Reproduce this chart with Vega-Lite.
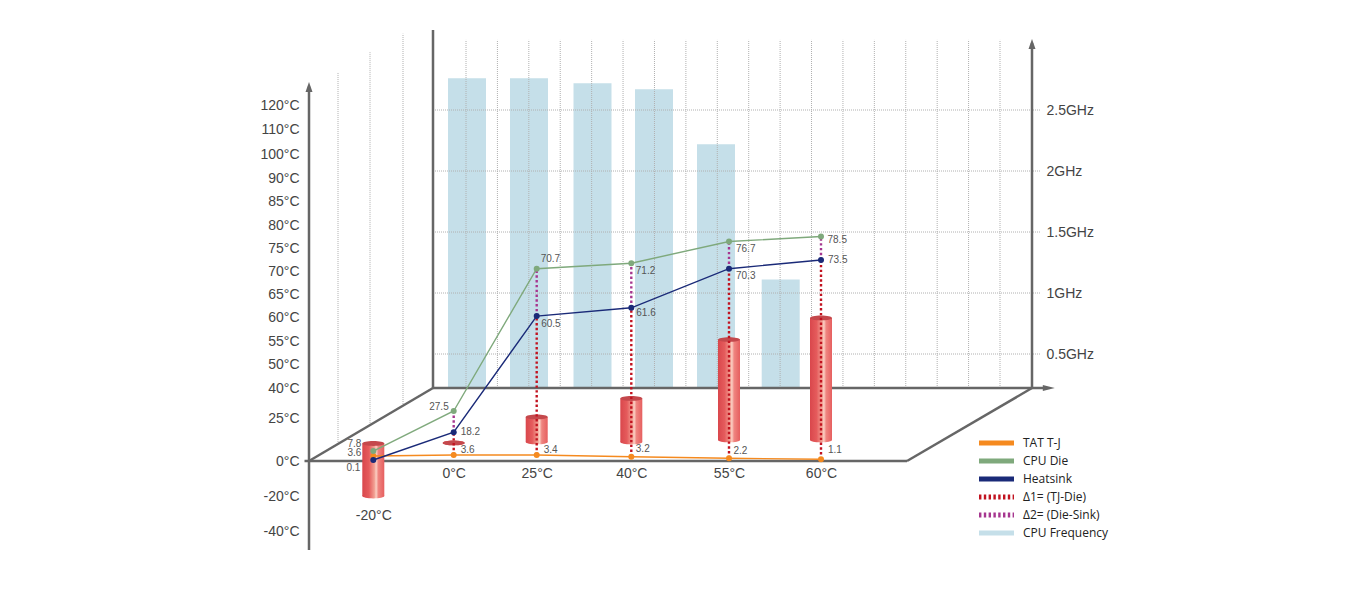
{
"$schema":"https://vega.github.io/schema/vega-lite/v6.json",
"width":1354,"height":590,"padding":0,
"autosize":{"type":"none"},
"background":"white",
"config":{"view":{"stroke":null},"text":{"font":"Liberation Sans"},"axis":{"labelOverlap":false}},
"datasets":{
"freq":[{"ambient":-20,"ghz":2.76},{"ambient":0,"ghz":2.76},{"ambient":25,"ghz":2.72},{"ambient":40,"ghz":2.67},{"ambient":55,"ghz":2.22},{"ambient":60,"ghz":1.11}],
"ticks":[{"ghz":0.5},{"ghz":1},{"ghz":1.5},{"ghz":2},{"ghz":2.5}],
"columns":[{"col":-3,"from":9.9,"to":134.3},{"col":-2,"from":21,"to":143},{"col":-1,"from":31,"to":151},
{"col":1,"from":40,"to":148.3},{"col":2,"from":40,"to":148.3},{"col":3,"from":40,"to":148.3},{"col":4,"from":40,"to":148.3},{"col":5,"from":40,"to":148.3},{"col":6,"from":40,"to":148.3},{"col":7,"from":40,"to":148.3},{"col":8,"from":40,"to":148.3},{"col":9,"from":40,"to":148.3},{"col":10,"from":40,"to":148.3},{"col":11,"from":40,"to":148.3},{"col":12,"from":40,"to":148.3},{"col":13,"from":40,"to":148.3},{"col":14,"from":40,"to":148.3},{"col":15,"from":40,"to":148.3},{"col":16,"from":40,"to":148.3},{"col":17,"from":40,"to":148.3},{"col":18,"from":40,"to":148.3}],
"frame":[
{"edge":"front","col":-4.31,"col2":15.04,"t":0,"t2":0},
{"edge":"left","col":-4,"col2":0,"t":0,"t2":40},
{"edge":"right","col":15.04,"col2":19,"t":0,"t2":40},
{"edge":"back","col":0,"col2":19.6,"t":40,"t2":40},
{"edge":"temperature axis","col":-4,"col2":-4,"t":-50,"t2":128},
{"edge":"back wall","col":0,"col2":0,"t":40,"t2":152.6},
{"edge":"frequency axis","col":19,"col2":19,"t":40,"t2":147}],
"upArrows":[{"col":-4,"t":127.8},{"col":19,"t":146.5}],
"rightArrows":[{"col":19.7,"t":40}],
"cylinders":[{"ambient":-20,"top":10.2,"bottom":-20},{"ambient":0,"top":10.5,"bottom":10.5},{"ambient":25,"top":25.5,"bottom":11},{"ambient":40,"top":34.75,"bottom":11},{"ambient":55,"top":55.3,"bottom":12.2},{"ambient":60,"top":59.8,"bottom":12.2}],
"temps":[
{"ambient":-20,"series":"TAT T-J","temp":2.9,"label":"3.6"},{"ambient":0,"series":"TAT T-J","temp":3.5,"label":"3.6"},{"ambient":25,"series":"TAT T-J","temp":3.5,"label":"3.4"},{"ambient":40,"series":"TAT T-J","temp":2.5,"label":"3.2"},{"ambient":55,"series":"TAT T-J","temp":1.6,"label":"2.2"},{"ambient":60,"series":"TAT T-J","temp":1.0,"label":"1.1"},
{"ambient":-20,"series":"CPU Die","temp":5.8,"label":"7.8"},{"ambient":0,"series":"CPU Die","temp":28.5,"label":"27.5"},{"ambient":25,"series":"CPU Die","temp":70.5,"label":"70.7"},{"ambient":40,"series":"CPU Die","temp":71.7,"label":"71.2"},{"ambient":55,"series":"CPU Die","temp":76.4,"label":"76.7"},{"ambient":60,"series":"CPU Die","temp":77.5,"label":"78.5"},
{"ambient":-20,"series":"Heatsink","temp":0.6,"label":"0.1"},{"ambient":0,"series":"Heatsink","temp":16.7,"label":"18.2"},{"ambient":25,"series":"Heatsink","temp":60.2,"label":"60.5"},{"ambient":40,"series":"Heatsink","temp":62.0,"label":"61.6"},{"ambient":55,"series":"Heatsink","temp":70.5,"label":"70.3"},{"ambient":60,"series":"Heatsink","temp":72.4,"label":"73.5"}],
"deltas":[
{"ambient":0,"series":"Δ1= (TJ-Die)","low":3.5,"high":16.7},{"ambient":25,"series":"Δ1= (TJ-Die)","low":3.5,"high":60.2},{"ambient":40,"series":"Δ1= (TJ-Die)","low":2.5,"high":62.0},{"ambient":55,"series":"Δ1= (TJ-Die)","low":1.6,"high":70.5},{"ambient":60,"series":"Δ1= (TJ-Die)","low":1.0,"high":72.4},
{"ambient":0,"series":"Δ2= (Die-Sink)","low":16.7,"high":28.5},{"ambient":25,"series":"Δ2= (Die-Sink)","low":60.2,"high":70.5},{"ambient":40,"series":"Δ2= (Die-Sink)","low":62.0,"high":71.7},{"ambient":55,"series":"Δ2= (Die-Sink)","low":70.5,"high":76.4},{"ambient":60,"series":"Δ2= (Die-Sink)","low":72.4,"high":77.5}]
},
"resolve":{"scale":{"x":"independent","y":"independent"},"axis":{"x":"independent","y":"independent"}},
"layer":[
{"data":{"name":"freq"},
 "mark":{"type":"bar","orient":"vertical","size":38,"color":"#c5dfe9"},
 "encoding":{
  "x":{"field":"ambient","type":"quantitative","axis":null,"scale":{"padding":0,"domain":[-20,0,25,40,55,60],"range":[467,529,592.5,654,716,780.7]}},
  "y":{"field":"ghz","type":"quantitative","axis":null,"scale":{"domain":[0,0.5,1,1.5,2,2.5,3,3.5],"range":[388,354,293,232,171,110,49,-12]}}}},
{"data":{"name":"ticks"},
 "mark":{"type":"rule","color":"#b0b0b0","strokeWidth":1,"strokeDash":[1,1]},
 "encoding":{
  "x":{"datum":0,"axis":null,"scale":{"domain":[-5,-4,-3,-2,-1,0,1,18,19,20],"range":[280,309,338,370,403,433,466,1000,1032,1056]}},
  "x2":{"datum":19.375},
  "y":{"field":"ghz","type":"quantitative","scale":{"domain":[0,0.5,1,1.5,2,2.5,3,3.5],"range":[388,354,293,232,171,110,49,-12]},
   "axis":{"orient":"right","offset":-322,"values":[0.5,1,1.5,2,2.5],"tickCount":30,"labelExpr":"datum.value+'GHz'","domain":false,"ticks":false,"grid":false,"title":null,"labelPadding":14,"labelFontSize":14,"labelFont":"Liberation Sans","labelColor":"#444444","labelOverlap":false,"labelBound":false,"labelFlush":false}}}},
{"layer":[
 {"data":{"name":"columns"},
  "mark":{"type":"rule","color":"#b0b0b0","strokeWidth":1,"strokeDash":[1,1]},
  "encoding":{
   "x":{"field":"col","type":"quantitative","axis":null,"scale":{"domain":[-5,-4,-3,-2,-1,0,1,18,19,20],"range":[280,309,338,370,403,433,466,1000,1032,1056]}},
   "y":{"field":"from","type":"quantitative","axis":null,"scale":{"domain":[-100,-50,-40,-20,0,25,40,50,55,60,65,70,75,80,85,90,100,110,120,130,200],"range":[645,550,531,496,461,418,388,364,341,317,294,271,248,225,201,178,154,129,105,82,-79]}},
   "y2":{"field":"to"}}},
 {"data":{"name":"frame"},
  "mark":{"type":"rule","color":"#666666","strokeWidth":2.5},
  "encoding":{
   "x":{"field":"col","type":"quantitative","axis":null},"x2":{"field":"col2"},
   "y":{"field":"t","type":"quantitative","axis":null},"y2":{"field":"t2"}}},
 {"data":{"name":"upArrows"},
  "mark":{"type":"point","filled":true,"opacity":1,"color":"#666666","size":100,"shape":"M0,-1L0.7,1L-0.7,1Z"},
  "encoding":{"x":{"field":"col","type":"quantitative","axis":null},"y":{"field":"t","type":"quantitative","axis":null}}},
 {"data":{"name":"rightArrows"},
  "mark":{"type":"point","filled":true,"opacity":1,"color":"#666666","size":144,"shape":"M1,0L-1,0.5L-1,-0.5Z"},
  "encoding":{"x":{"field":"col","type":"quantitative","axis":null},"y":{"field":"t","type":"quantitative","axis":null}}}
]},
{"layer":[
 {"data":{"name":"cylinders"},
  "mark":{"type":"bar","orient":"vertical","size":22,"color":{"gradient":"linear","x1":0,"x2":1,"y1":0,"y2":0,"stops":[{"offset":0,"color":"#d9474c"},{"offset":0.3,"color":"#e55b5c"},{"offset":0.55,"color":"#f2a093"},{"offset":0.63,"color":"#fbd0c4"},{"offset":0.73,"color":"#ef8580"},{"offset":1,"color":"#e65f5f"}]}},
  "encoding":{
   "x":{"field":"ambient","type":"quantitative","scale":{"padding":0,"domain":[-20,0,25,40,55,60],"range":[373.3,453.7,536.7,631.3,729,821]},
    "axis":{"orient":"bottom","offset":-129,"values":[-20,0,25,40,55,60],"tickCount":30,"labelExpr":"datum.value==-20?['\u00a0','-20°C']:datum.value+'°C'","domain":false,"ticks":false,"grid":false,"title":null,"labelPadding":5,"labelFontSize":14,"labelLineHeight":42,"labelFont":"Liberation Sans","labelColor":"#444444","labelOverlap":false,"labelBound":false,"labelFlush":false}},
   "y":{"field":"top","type":"quantitative","scale":{"domain":[-100,-50,-40,-20,0,25,40,50,55,60,65,70,75,80,85,90,100,110,120,130,200],"range":[645,550,531,496,461,418,388,364,341,317,294,271,248,225,201,178,154,129,105,82,-79]},
    "axis":{"orient":"left","offset":-309,"values":[-40,-20,0,25,40,50,55,60,65,70,75,80,85,90,100,110,120],"tickCount":30,"labelExpr":"datum.value+'°C'","domain":false,"ticks":false,"grid":false,"title":null,"labelPadding":10,"labelFontSize":14,"labelFont":"Liberation Sans","labelColor":"#444444","labelOverlap":false,"labelBound":false,"labelFlush":false}},
   "y2":{"field":"bottom"}}},
 {"data":{"name":"cylinders"},
  "mark":{"type":"point","filled":true,"opacity":1,"strokeWidth":0,"size":484,"shape":"M-1,0A1,0.22,0,1,0,1,0A1,0.22,0,1,0,-1,0Z","fill":{"gradient":"linear","x1":0,"x2":1,"y1":0,"y2":0,"stops":[{"offset":0,"color":"#d9474c"},{"offset":0.3,"color":"#e55b5c"},{"offset":0.55,"color":"#f2a093"},{"offset":0.63,"color":"#fbd0c4"},{"offset":0.73,"color":"#ef8580"},{"offset":1,"color":"#e65f5f"}]}},
  "encoding":{"x":{"field":"ambient","type":"quantitative"},"y":{"field":"bottom","type":"quantitative"}}},
 {"data":{"name":"cylinders"},
  "mark":{"type":"point","filled":true,"opacity":1,"strokeWidth":0,"size":484,"shape":"M-1,0A1,0.22,0,1,0,1,0A1,0.22,0,1,0,-1,0Z","fill":"#c4484c"},
  "encoding":{"x":{"field":"ambient","type":"quantitative"},"y":{"field":"top","type":"quantitative"}}},
 {"data":{"name":"temps"},
  "mark":{"type":"line","strokeWidth":1.4},
  "encoding":{"x":{"field":"ambient","type":"quantitative"},"y":{"field":"temp","type":"quantitative"},
   "stroke":{"field":"series","type":"nominal","title":null,"legend":{"orient":"none","legendX":988.5,"legendY":435,"title":null,"symbolType":"M-3.18,0L3.18,0","symbolSize":121,"labelFont":"Open Sans","labelFontSize":12,"labelColor":"#222222","rowPadding":-2,"labelOffset":18.5,"padding":0},"scale":{"domain":["TAT T-J","CPU Die","Heatsink","Δ1= (TJ-Die)","Δ2= (Die-Sink)","CPU Frequency"],"range":["#f58a1f","#7fa97c","#1a2a78","#c1121f","#a6368f","#c5dfe9"]}}}},
 {"data":{"name":"deltas"},
  "mark":{"type":"rule","strokeWidth":2.4},
  "encoding":{"x":{"field":"ambient","type":"quantitative"},"y":{"field":"low","type":"quantitative"},"y2":{"field":"high"},
   "stroke":{"field":"series","type":"nominal","title":null},
   "strokeDash":{"field":"series","type":"nominal","title":null,"legend":{"orient":"none","legendX":988.5,"legendY":435,"title":null,"symbolType":"M-3.18,0L3.18,0","symbolSize":121,"labelFont":"Open Sans","labelFontSize":12,"labelColor":"#222222","rowPadding":-2,"labelOffset":18.5,"padding":0},"scale":{"domain":["TAT T-J","CPU Die","Heatsink","Δ1= (TJ-Die)","Δ2= (Die-Sink)","CPU Frequency"],"range":[[1,0],[1,0],[1,0],[2.4,2.4],[2.4,2.4],[1,0]]}}}},
 {"data":{"name":"temps"},
  "mark":{"type":"point","filled":true,"opacity":1,"size":36,"strokeWidth":0},
  "encoding":{"x":{"field":"ambient","type":"quantitative"},"y":{"field":"temp","type":"quantitative"},
   "fill":{"field":"series","type":"nominal","legend":null,"scale":{"domain":["TAT T-J","CPU Die","Heatsink"],"range":["#f58a1f","#7fa97c","#1a2a78"]}}}},
 {"data":{"name":"temps"},
  "encoding":{"x":{"field":"ambient","type":"quantitative"},"y":{"field":"temp","type":"quantitative"},"text":{"field":"label","type":"nominal"}},
  "layer":[
   {"transform":[{"filter":"datum.label=='7.8'"}],"mark":{"type":"text","align":"right","baseline":"middle","fontSize":10,"color":"#555555","dx":-12,"dy":-7}},
   {"transform":[{"filter":"datum.label=='3.6'&&datum.ambient==-20"}],"mark":{"type":"text","align":"right","baseline":"middle","fontSize":10,"color":"#555555","dx":-12,"dy":-3}},
   {"transform":[{"filter":"datum.label=='0.1'"}],"mark":{"type":"text","align":"right","baseline":"middle","fontSize":10,"color":"#555555","dx":-13,"dy":8}},
   {"transform":[{"filter":"datum.label=='27.5'"}],"mark":{"type":"text","align":"right","baseline":"middle","fontSize":10,"color":"#555555","dx":-5,"dy":-4}},
   {"transform":[{"filter":"indexof(['18.2','73.5'],datum.label)>=0"}],"mark":{"type":"text","align":"left","baseline":"middle","fontSize":10,"color":"#555555","dx":7,"dy":0}},
   {"transform":[{"filter":"(datum.label=='3.6'&&datum.ambient==0)||datum.label=='3.4'"}],"mark":{"type":"text","align":"left","baseline":"middle","fontSize":10,"color":"#555555","dx":7,"dy":-5}},
   {"transform":[{"filter":"datum.label=='70.7'"}],"mark":{"type":"text","align":"left","baseline":"middle","fontSize":10,"color":"#555555","dx":4,"dy":-10}},
   {"transform":[{"filter":"indexof(['60.5','71.2'],datum.label)>=0"}],"mark":{"type":"text","align":"left","baseline":"middle","fontSize":10,"color":"#555555","dx":4.5,"dy":7.5}},
   {"transform":[{"filter":"indexof(['76.7','70.3'],datum.label)>=0"}],"mark":{"type":"text","align":"left","baseline":"middle","fontSize":10,"color":"#555555","dx":7,"dy":7}},
   {"transform":[{"filter":"datum.label=='61.6'"}],"mark":{"type":"text","align":"left","baseline":"middle","fontSize":10,"color":"#555555","dx":5,"dy":5}},
   {"transform":[{"filter":"indexof(['3.2','2.2'],datum.label)>=0"}],"mark":{"type":"text","align":"left","baseline":"middle","fontSize":10,"color":"#555555","dx":4.5,"dy":-7.5}},
   {"transform":[{"filter":"datum.label=='78.5'"}],"mark":{"type":"text","align":"left","baseline":"middle","fontSize":10,"color":"#555555","dx":6.5,"dy":3}},
   {"transform":[{"filter":"datum.label=='1.1'"}],"mark":{"type":"text","align":"left","baseline":"middle","fontSize":10,"color":"#555555","dx":7,"dy":-9}}
  ]},
 {"data":{"values":[]},
  "mark":{"type":"line"},
  "encoding":{"x":{"field":"ambient","type":"quantitative"},"y":{"field":"temp","type":"quantitative"},
   "stroke":{"field":"series","type":"nominal","title":null},
   "strokeDash":{"field":"series","type":"nominal","title":null},
   "strokeWidth":{"field":"series","type":"nominal","title":null,"legend":{"orient":"none","legendX":988.5,"legendY":435,"title":null,"symbolType":"M-3.18,0L3.18,0","symbolSize":121,"labelFont":"Open Sans","labelFontSize":12,"labelColor":"#222222","rowPadding":-2,"labelOffset":18.5,"padding":0},"scale":{"domain":["TAT T-J","CPU Die","Heatsink","Δ1= (TJ-Die)","Δ2= (Die-Sink)","CPU Frequency"],"range":[5,5,5,2,2,5]}}}}
]}
]}
